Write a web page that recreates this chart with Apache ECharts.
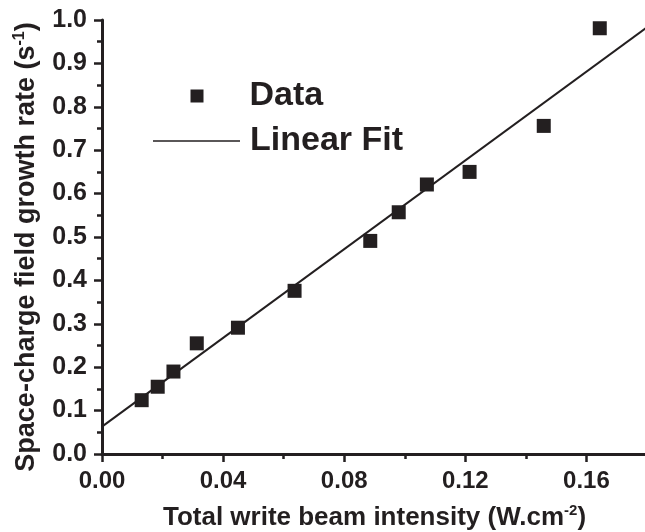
<!DOCTYPE html>
<html>
<head>
<meta charset="utf-8">
<script src="https://cdn.jsdelivr.net/npm/echarts@6/dist/echarts.min.js"></script>
<style>html,body{margin:0;padding:0;background:#fff}#c{width:645px;height:532px}</style>
</head>
<body>
<div id="c"></div>
<script>
// Data
const intensity = [0.0131, 0.0184, 0.0236, 0.0313, 0.0449, 0.0636, 0.0886, 0.0980, 0.1073, 0.1214, 0.1459, 0.1644];
const growthRate = [0.124, 0.155, 0.190, 0.255, 0.291, 0.376, 0.491, 0.557, 0.621, 0.650, 0.756, 0.981];
const fitX = [0, 0.18];
const fitY = [0.063, 0.983];
const xTickLabels = ['0.00', '0.04', '0.08', '0.12', '0.16'];

const INK = '#231f20';
const FONT = '"Liberation Sans", Arial, sans-serif';

const chart = echarts.init(document.getElementById('c'), null, {renderer: 'canvas'});
const scatterData = intensity.map((x, i) => [x, growthRate[i]]);
const fitData = fitX.map((x, i) => [x, fitY[i]]);

chart.setOption({
  animation: false,
  backgroundColor: '#fff',
  grid: {left: 102, top: 20, width: 545, height: 434, containLabel: false, outerBoundsMode: 'none'},
  legend: [
    {
      data: ['Data'], orient: 'vertical', left: 190.5, top: 79, padding: 0,
      itemWidth: 13, itemHeight: 13, icon: 'rect', selectedMode: false,
      itemStyle: {color: INK, opacity: 1},
      textStyle: {fontFamily: FONT, fontWeight: 'bold', fontSize: 34, color: INK, padding: [5, 0, 0, 41]}
    },
    {
      data: [{name: 'Linear Fit', icon: 'path://M0,0H100V2H0Z'}], orient: 'vertical', left: 153, top: 124, padding: 0,
      itemWidth: 87, itemHeight: 2, selectedMode: false,
      itemStyle: {color: INK, opacity: 1},
      textStyle: {fontFamily: FONT, fontWeight: 'bold', fontSize: 34, color: INK, padding: [0, 0, 0, 5]}
    }
  ],
  xAxis: [
    {
      type: 'value', min: 0, max: 0.18, interval: 0.04,
      position: 'bottom',
      name: 'Total write beam intensity (W.cm{sup|-2})',
      nameLocation: 'middle', nameGap: 49,
      nameTextStyle: {
        fontFamily: FONT, fontWeight: 'bold', fontSize: 26, color: INK,
        rich: {sup: {fontFamily: FONT, fontWeight: 'bold', fontSize: 15, color: INK, verticalAlign: 'top', padding: [0, 0, 14, 0]}}
      },
      axisLine: {show: true, onZero: false, lineStyle: {color: INK, width: 3}},
      axisTick: {show: true, length: 8, lineStyle: {color: INK, width: 2.5}},
      minorTick: {show: false},
      splitLine: {show: false},
      axisLabel: {
        margin: 15, showMaxLabel: false,
        fontFamily: FONT, fontWeight: 'bold', fontSize: 24, color: INK,
        formatter: v => { const i = Math.round(v / 0.04); return Math.abs(v - i * 0.04) < 1e-9 && xTickLabels[i] ? xTickLabels[i] : ''; }
      }
    },
    {
      type: 'value', min: 0, max: 0.18, interval: 0.02,
      position: 'bottom', gridIndex: 0,
      axisLine: {show: false, onZero: false},
      axisTick: {show: true, length: 5, lineStyle: {color: INK, width: 2.5}},
      axisLabel: {show: false},
      splitLine: {show: false}
    }
  ],
  yAxis: {
    type: 'value', min: 0, max: 1.0, interval: 0.1,
    name: 'Space-charge field growth rate (s{sup|-1})',
    nameLocation: 'middle', nameGap: 60, nameRotate: 90,
    nameTextStyle: {
      fontFamily: FONT, fontWeight: 'bold', fontSize: 27, color: INK,
      padding: [0, 20, 0, 0],
      rich: {sup: {fontFamily: FONT, fontWeight: 'bold', fontSize: 16, color: INK, verticalAlign: 'top', padding: [0, 0, 14, 0]}}
    },
    axisLine: {show: true, onZero: false, lineStyle: {color: INK, width: 3}},
    axisTick: {show: true, length: 8, lineStyle: {color: INK, width: 2.5}},
    minorTick: {show: true, splitNumber: 2, length: 5, lineStyle: {color: INK, width: 2.5}},
    splitLine: {show: false},
    axisLabel: {
      margin: 15, fontFamily: FONT, fontWeight: 'bold', fontSize: 25, color: INK,
      formatter: v => v.toFixed(1)
    }
  },
  series: [
    {
      name: 'Data', type: 'scatter', data: scatterData,
      symbol: 'rect', symbolSize: 14,
      itemStyle: {color: INK, opacity: 1}, z: 3
    },
    {
      name: 'Linear Fit', type: 'line', data: fitData,
      symbol: 'none', clip: true,
      lineStyle: {color: INK, width: 2}, itemStyle: {color: INK}, z: 2
    }
  ]
});
</script>
</body>
</html>
